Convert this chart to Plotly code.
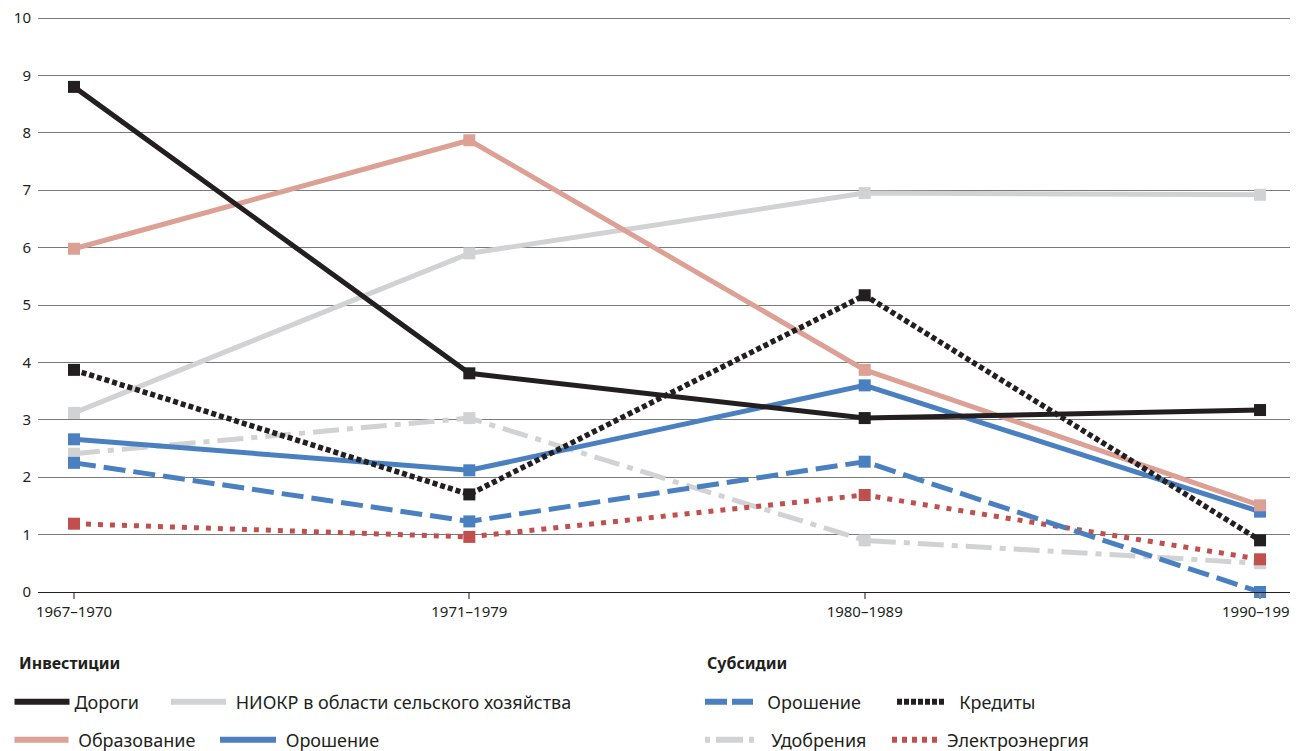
import plotly.graph_objects as go

periods = ["1967–1970", "1971–1979", "1980–1989", "1990–1997"]

roads = [8.80, 3.81, 3.03, 3.17]
rnd = [3.12, 5.90, 6.95, 6.92]
education = [5.98, 7.87, 3.87, 1.51]
irrigation_inv = [2.66, 2.12, 3.60, 1.40]

irrigation_sub = [2.25, 1.23, 2.27, 0.00]
credit = [3.87, 1.70, 5.17, 0.90]
fertilizer = [2.41, 3.03, 0.90, 0.50]
electricity = [1.19, 0.96, 1.69, 0.57]

y_ticks = [0, 1, 2, 3, 4, 5, 6, 7, 8, 9, 10]

group_titles = ["Инвестиции", "Субсидии"]

BLACK = "#231f20"
GRAY = "#d1d2d3"
PINK = "#dca095"
BLUE = "#4a7fc0"
RED = "#c0504d"

FONT = "Noto Sans"
NB = "\u00a0"

W, H = 1290, 743   # page has an 8px body margin


def cx(px):  # page pixel -> container fraction
    return (px - 8) / W


def cy(py):
    return 1 - (py - 8) / H


series = [
    # name, values, color, width, dash, legend dash, legend id, legend x(px), row, itemwidth, pad
    ("Дороги", roads, BLACK, 5, "solid", "solid", "legend", 9.5, 0, 55, 0),
    ("НИОКР в области сельского хозяйства", rnd, GRAY, 5, "solid", "solid", "legend2", 166, 0, 55, 1),
    ("Образование", education, PINK, 5, "solid", "solid", "legend3", 9.5, 1, 54, 1),
    ("Орошение", irrigation_inv, BLUE, 5, "solid", "solid", "legend4", 215, 1, 56, 1),
    ("Орошение", irrigation_sub, BLUE, 5, "22px,8px", "22px,5px", "legend5", 700, 0, 48, 2),
    ("Кредиты", credit, BLACK, 5.5, "5px,3px", "5px,2px", "legend6", 892, 0, 48, 2),
    ("Удобрения", fertilizer, GRAY, 5, "26px,8px,6px,8px", "5px,6px,27px,6px,5px,6px", "legend7", 700, 1, 52, 2),
    ("Электроэнергия", electricity, RED, 5, "5px,7px", "5px,5px", "legend8", 887, 1, 50, 0),
]

row_y = [702, 740]

fig = go.Figure()

draw_order = [1, 6, 7, 4, 3, 2, 0, 5]
for i in draw_order:
    name, vals, color, width, dash = series[i][:5]
    fig.add_trace(go.Scatter(
        x=periods, y=vals, mode="lines+markers", name=name,
        line=dict(color=color, width=width, dash=dash),
        marker=dict(symbol="square", size=12, color=color),
        showlegend=False, cliponaxis=False, hoverinfo="skip",
    ))

legends = {}
for name, vals, color, width, dash, ldash, lg, lx, row, iw, pad in series:
    fig.add_trace(go.Scatter(
        x=[None], y=[None], mode="lines", name=NB * pad + name,
        line=dict(color=color, width=6, dash=ldash),
        showlegend=True, legend=lg,
    ))
    legends[lg] = dict(
        orientation="h", xref="container", yref="container",
        x=cx(lx), y=cy(row_y[row]), xanchor="left", yanchor="middle",
        font=dict(family=FONT, size=18, color=BLACK),
        bgcolor="rgba(0,0,0,0)", itemwidth=iw, borderwidth=0,
        itemclick=False, itemdoubleclick=False,
    )

fig.update_layout(
    width=W, height=H,
    margin=dict(l=30, r=0, t=8, b=159),
    plot_bgcolor="white", paper_bgcolor="white",
    font=dict(family=FONT, size=15, color=BLACK),
    xaxis=dict(
        type="category", range=[-0.091, 3.096],
        showgrid=False, zeroline=False,
        showline=True, linecolor=BLACK, linewidth=1,
        ticks="outside", ticklen=6, tickcolor="#8a8a8a", tickwidth=1.5,
        tickfont=dict(family=FONT, size=15, color=BLACK),
        ticklabeloverflow="allow", automargin=False,
    ),
    yaxis=dict(
        range=[0, 10.035], tickvals=y_ticks,
        showgrid=True, gridcolor="#7a7a7a", gridwidth=1,
        zeroline=False, showline=False, ticks="",
        ticklabelstandoff=6, ticklabeloverflow="allow", automargin=False,
        tickfont=dict(family=FONT, size=15, color=BLACK),
    ),
    **legends,
)

plot_h = 576
for title, px in zip(group_titles, [17, 705]):
    fig.add_annotation(
        text="<b>" + title + "</b>", xref="paper", yref="paper",
        x=(px - 38) / 1260, y=(592 - 663) / plot_h,
        xanchor="left", yanchor="middle", showarrow=False,
        font=dict(family=FONT, size=16, color=BLACK),
    )

fig.write_html("out.html")
